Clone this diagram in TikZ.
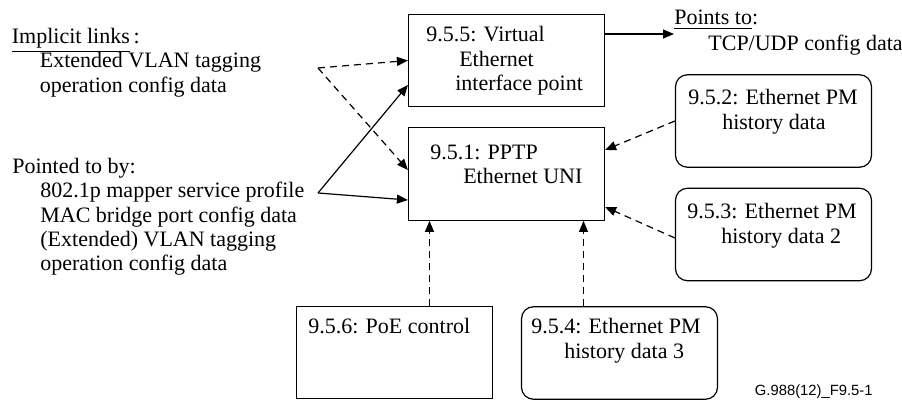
\documentclass[tikz,border=0pt]{standalone}
\usepackage{fontspec}
\setmainfont{Liberation Serif}
\newfontfamily\figfont{Liberation Sans}
\usetikzlibrary{arrows.meta}

\tikzset{
  box/.style={draw, line width=0.6pt, minimum width=98pt, minimum height=46.25pt, inner sep=0pt},
  rbox/.style={box, rounded corners=6pt},
  boxtext/.style={anchor=north west, align=left, inner sep=0pt, font=\fontsize{11}{12.4}\selectfont},
  note/.style={anchor=north west, align=left, inner sep=0pt, font=\fontsize{11}{12.1}\selectfont},
  link/.style={-{Triangle[length=5.5pt,width=4.5pt]}, line width=0.6pt},
  dlink/.style={link, dash pattern=on 3.5pt off 2.5pt},
}

\begin{document}
\begin{tikzpicture}[x=0.5pt, y=-0.5pt]
    \useasboundingbox (0,0) rectangle (902,400);

    % Managed entities
    \node[box, label={[boxtext, xshift=9pt, yshift=-6pt]north west:{9.5.5: Virtual\\\hspace*{16.5pt}Ethernet\\\hspace*{14.5pt}interface point}}] (vep) at (506.5,60.5) {};
    \node[box, label={[boxtext, xshift=11pt, yshift=-8.5pt]north west:{9.5.1: PPTP\\\hspace*{16.5pt}Ethernet UNI}}] (uni) at (506.5,174) {};
    \node[rbox, label={[boxtext, xshift=6.5pt, yshift=-7.5pt]north west:{9.5.2: Ethernet PM\\\hspace*{17pt}history data}}] (pmA) at (773.5,121) {};
    \node[rbox, label={[boxtext, xshift=6pt, yshift=-7.5pt]north west:{9.5.3: Ethernet PM\\\hspace*{17pt}history data 2}}] (pmB) at (773.5,234.5) {};
    \node[rbox, label={[boxtext, xshift=5pt, yshift=-6pt]north west:{9.5.4: Ethernet PM\\\hspace*{16.5pt}history data 3}}] (pmC) at (619.5,353) {};
    \node[box, label={[boxtext, xshift=6pt, yshift=-6pt]north west:{9.5.6: PoE control}}] (poe) at (394.5,352.5) {};

    % Notes
    \node[note] (impl) at (11.5,28) {\underline{Implicit links}\,:\\\hspace*{14pt}Extended VLAN tagging\\\hspace*{14pt}operation config data};
    \node[note] (pby) at (12,158) {Pointed to by:\\\hspace*{14pt}802.1p mapper service profile\\\hspace*{14pt}MAC bridge port config data\\\hspace*{14pt}(Extended) VLAN tagging\\\hspace*{14pt}operation config data};
    \node[note, font=\fontsize{11}{12.8}\selectfont] (pto) at (674,10) {\underline{Points to}:\\\hspace*{17pt}TCP/UDP config data};
    \node[anchor=base east, inner sep=0pt, font=\figfont\fontsize{7.4}{9}\selectfont] (fig) at (873,396) {G.988(12)\_F9.5-1};

    \coordinate (ij) at (318,68);
    \coordinate (pj) at (318,193);

    % Links
    \draw[dlink] (ij) -- (vep.west);
    \draw[dlink] (ij) -- ([yshift=2pt]uni.west);
    \draw[link] (pj) -- ([yshift=-12.25pt]vep.west);
    \draw[link] (pj) -- ([yshift=-13pt]uni.west);
    \draw[link] ([yshift=13.25pt]vep.east) -- ([yshift=13.25pt]vep.east -| pto.west);
    \draw[dlink] (pmA.west) -- ([yshift=12pt]uni.east);
    \draw[dlink] ([yshift=-1.75pt]pmB.west) -- ([yshift=-16.5pt]uni.east);
    \draw[dlink] ([xshift=-38.5pt]uni.south |- poe.north) -- ([xshift=-38.5pt]uni.south);
    \draw[dlink] ([xshift=38.5pt]uni.south |- pmC.north) -- ([xshift=38.5pt]uni.south);
\end{tikzpicture}
\end{document}
